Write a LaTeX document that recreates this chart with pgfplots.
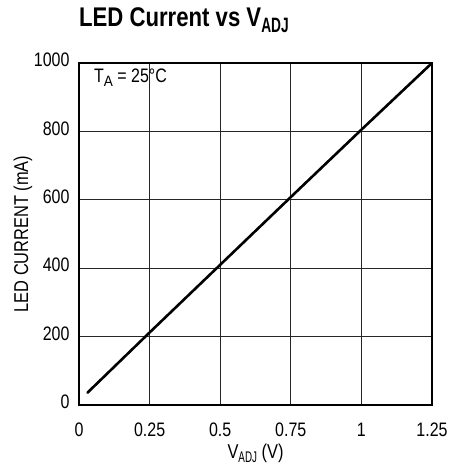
\documentclass[border=0pt]{standalone}
\usepackage{fontspec}
\setmainfont{Liberation Sans}[FakeStretch=0.82]
\usepackage{pgfplots}
\pgfplotsset{compat=1.18}

% condensed-looking subscript: narrower than it is tall
\newcommand{\sub}[2][0.6]{\raisebox{-0.22em}{\scalebox{#1}[0.77]{#2}}}

\begin{document}
\begin{tikzpicture}[x=1pt,y=1pt]
\begin{axis}[
    at={(0,0)}, anchor=south west,
    scale only axis,
    width=353pt, height=342pt,
    xmin=0, xmax=1.25, ymin=0, ymax=1000,
    xtick={0,0.25,0.5,0.75,1,1.25},
    xticklabels={0,0.25,0.5,0.75,1,1.25},
    ytick={0,200,400,600,800,1000},
    major tick length=0pt,
    grid=major,
    major grid style={black!85, line width=0.9pt},
    axis line style={black, line width=1.5pt},
    tick label style={font=\fontsize{19.5}{21}\selectfont},
    /pgf/number format/assume math mode=true,
    /pgf/number format/1000 sep={},
    xticklabel style={anchor=base, yshift=-31.5pt},
    yticklabel style={xshift=-6pt, yshift=3pt},
    xlabel={V\sub{ADJ} (V)},
    ylabel={LED CURRENT (mA)},
    label style={font=\fontsize{20}{22}\selectfont},
    xlabel style={at={(axis description cs:0.5,0)}, anchor=base, yshift=-53pt},
    ylabel style={at={(axis description cs:0,0.5)}, anchor=center, yshift=56pt},
    clip=false,
]
\addplot[black, line width=2.6pt, line cap=round] coordinates {
    (0.03,36) (0.25,212) (0.5,410) (0.75,608) (1.0,805) (1.25,1000)
};
\node[anchor=base west, inner sep=0pt, font=\fontsize{19.5}{21}\selectfont]
    at (axis cs:0.053,944) {T\sub[0.85]{A} = 25°C};
\end{axis}
\node[anchor=base west, inner sep=0pt, font=\fontsize{27}{30}\selectfont\bfseries]
    at (0,378.3) {LED Current vs V\sub[0.62]{ADJ}};
\pgfresetboundingbox
\useasboundingbox (-79,-63) rectangle (369,405);
\end{tikzpicture}
\end{document}
